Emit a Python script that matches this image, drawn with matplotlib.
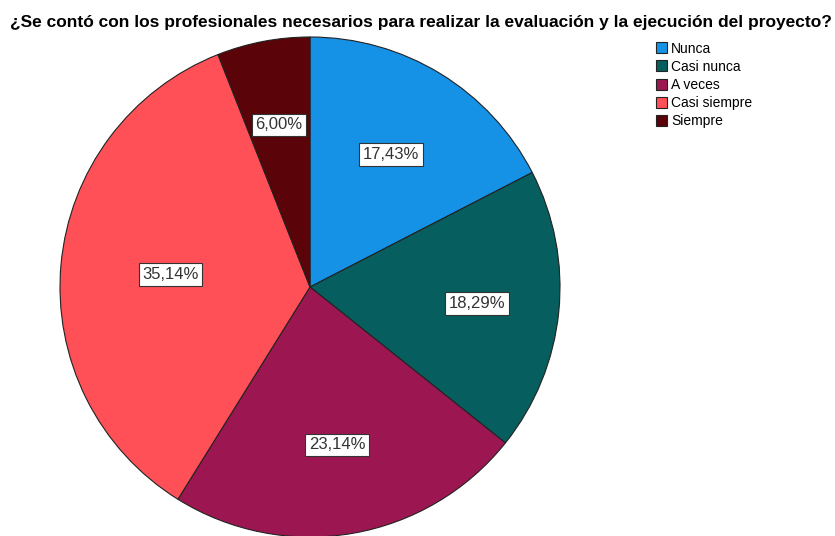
import matplotlib
matplotlib.use("Agg")
import numpy as np
import matplotlib.pyplot as plt
from matplotlib.patches import Patch

plt.rcParams['font.family'] = ['Liberation Sans', 'DejaVu Sans']

# Datos
categorias = ['Nunca', 'Casi nunca', 'A veces', 'Casi siempre', 'Siempre']
porcentajes = [17.43, 18.29, 23.14, 35.14, 6.00]
colores = ['#1592E6', '#065E5E', '#9C1751', '#FF5058', '#5A0309']
# distancia de cada etiqueta al centro (fraccion del radio)
dist_etiquetas = [0.62, 0.67, 0.64, 0.56, 0.66]

fig = plt.figure(figsize=(8.35, 5.36), dpi=100)
ax = fig.add_axes([60 / 835, -1 / 536, 500 / 835, 500 / 536])

wedges, textos, autotextos = ax.pie(
    porcentajes, colors=colores, startangle=90, counterclock=False,
    autopct=lambda p: '{:.2f}%'.format(p).replace('.', ','),
    pctdistance=0.62, radius=1,
    wedgeprops=dict(edgecolor='#222222', linewidth=0.8),
    textprops=dict(fontsize=12, color='#333333'))

for w, t, d in zip(wedges, autotextos, dist_etiquetas):
    ang = np.deg2rad((w.theta1 + w.theta2) / 2)
    t.set_position((d * np.cos(ang), d * np.sin(ang)))
    t.set_bbox(dict(boxstyle='square,pad=0.22', facecolor='white', edgecolor='#333333', linewidth=0.8))

ax.set_xlim(-1, 1)
ax.set_ylim(-1, 1)
ax.set_aspect('equal')

fig.text(10 / 835, 1 - 23 / 536, '¿Se contó con los profesionales necesarios para realizar la evaluación y la ejecución del proyecto?',
         ha='left', va='center', fontsize=12.5, fontweight='bold')

handles = [Patch(facecolor=c, edgecolor='#222222', linewidth=0.8) for c in colores]
fig.legend(handles, categorias, loc='upper left', bbox_to_anchor=(650 / 835, 1 - 36 / 536),
           frameon=False, fontsize=10, handlelength=0.85, handleheight=0.85,
           handletextpad=0.25, labelspacing=0.3, borderaxespad=0)

fig.savefig('out.png', dpi=100)
